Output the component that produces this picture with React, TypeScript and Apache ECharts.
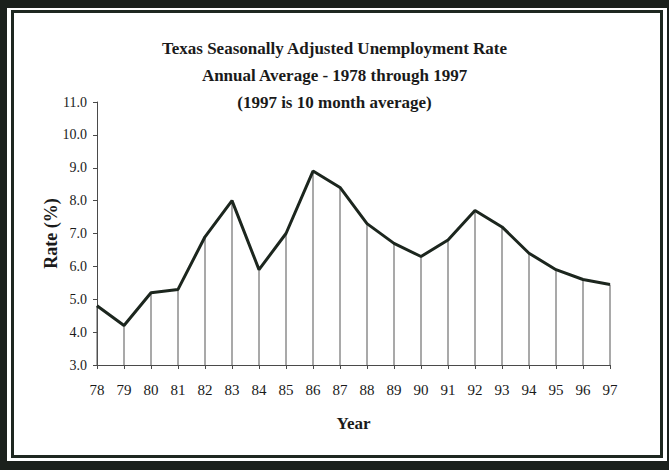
import React, { useEffect, useRef } from "react";
import * as echarts from "echarts";

const years = ["78","79","80","81","82","83","84","85","86","87","88","89","90","91","92","93","94","95","96","97"];
const rates = [4.8, 4.2, 5.2, 5.3, 6.9, 8.0, 5.9, 7.0, 8.9, 8.4, 7.3, 6.7, 6.3, 6.8, 7.7, 7.2, 6.4, 5.9, 5.6, 5.45];
const titleLines = [
  "Texas Seasonally Adjusted Unemployment Rate",
  "Annual Average - 1978 through 1997",
  "(1997 is 10 month average)",
];

const SERIF = "'Liberation Serif', 'Times New Roman', serif";

export default function App() {
  const ref = useRef<HTMLDivElement>(null);
  useEffect(() => {
    if (!ref.current) return;
    const chart = echarts.init(ref.current, null, { renderer: "svg" });
    chart.setOption({
      animation: false,
      backgroundColor: "#1b201c",
      graphic: [
        { type: "rect", z: -10, silent: true, shape: { x: 7, y: 8, width: 660, height: 453 }, style: { fill: "#ffffff" } },
        { type: "rect", z: -9, silent: true, shape: { x: 12.5, y: 11.5, width: 649, height: 445 }, style: { fill: "#ffffff", stroke: "#1e2820", lineWidth: 3 } },
      ],
      title: {
        text: titleLines.join("\n"),
        left: "center",
        top: 30,
        textStyle: { fontFamily: SERIF, fontWeight: "bold", fontSize: 17, lineHeight: 27, color: "#1a1a1a" },
      },
      grid: { left: 97, right: 59, top: 102, bottom: 105, containLabel: false },
      xAxis: {
        type: "category",
        data: years,
        boundaryGap: false,
        name: "Year",
        nameLocation: "middle",
        nameGap: 50,
        nameMoveOverlap: false,
        nameTextStyle: { fontFamily: SERIF, fontWeight: "bold", fontSize: 17, color: "#1a1a1a" },
        axisLine: { lineStyle: { color: "#4a4a4a", width: 1 } },
        axisTick: { show: true, length: 4, lineStyle: { color: "#4a4a4a" } },
        axisLabel: { fontFamily: SERIF, fontSize: 15, color: "#1a1a1a", margin: 17, interval: 0 },
        splitLine: { show: false },
      },
      yAxis: {
        type: "value",
        min: 3,
        max: 11,
        interval: 1,
        name: "Rate (%)",
        nameLocation: "middle",
        nameGap: 37,
        nameMoveOverlap: false,
        nameTextStyle: { fontFamily: SERIF, fontWeight: "bold", fontSize: 18, color: "#1a1a1a" },
        axisLine: { show: true, lineStyle: { color: "#4a4a4a", width: 1 } },
        axisTick: { show: true, length: 4, lineStyle: { color: "#4a4a4a" } },
        axisLabel: { fontFamily: SERIF, fontSize: 14, color: "#1a1a1a", margin: 10, formatter: (v: number) => v.toFixed(1) },
        splitLine: { show: false },
      },
      series: [
        {
          type: "bar",
          data: rates,
          barWidth: 1,
          itemStyle: { color: "#555555" },
          z: 1,
        },
        {
          type: "line",
          data: rates,
          symbol: "none",
          lineStyle: { color: "#1c261e", width: 3 },
          z: 3,
        },
      ],
    });
    return () => chart.dispose();
  }, []);
  return <div ref={ref} style={{ position: "absolute", left: 0, top: 0, width: 669, height: 470 }} />;
}
